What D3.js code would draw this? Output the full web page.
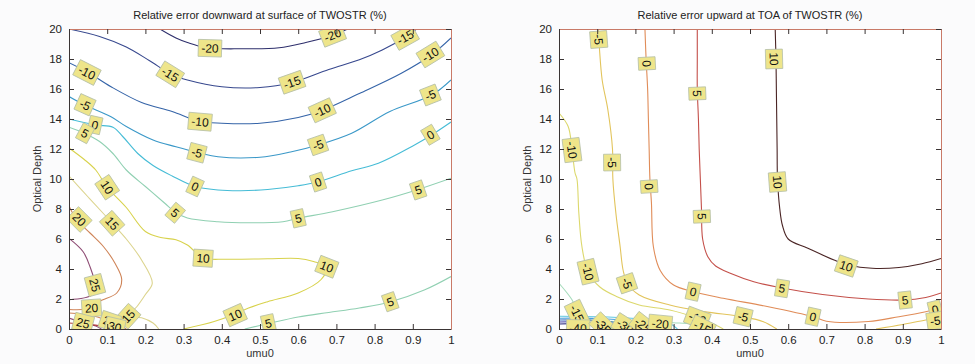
<!DOCTYPE html>
<html>
<head>
<meta charset="utf-8">
<script src="https://cdn.jsdelivr.net/npm/d3@7"></script>
<style>
  body { margin: 0; background: #fbfbfc; }
  svg { display: block; font-family: "Liberation Sans", Arial, sans-serif; }
</style>
</head>
<body>
<svg id="chart" width="975" height="364"></svg>
<script>
// axis ticks
const xTicks = [0, 0.1, 0.2, 0.3, 0.4, 0.5, 0.6, 0.7, 0.8, 0.9, 1];
const yTicks = [0, 2, 4, 6, 8, 10, 12, 14, 16, 18, 20];
const titles = ["Relative error downward at surface of TWOSTR (%)", "Relative error upward at TOA of TWOSTR (%)"];

// contour levels
const downLevels = [-20, -15, -10, -5, 0, 5, 10, 15, 20, 25, 30];
const upLevels = [-40, -35, -30, -25, -20, -15, -10, -5, 0, 5, 10];

// contour lines: [level, [[umu0, depth], ...]]
const downLines = [
  [-20, [[0.238,20],[0.28,19.4],[0.31,19.1],[0.36,18.75],[0.45,18.68],[0.55,18.75],[0.62,19.1],[0.68,19.5],[0.73,20]]],
  [-15, [[0,20],[0.08,19.5],[0.15,18.8],[0.21,17.9],[0.27,16.95],[0.31,16.6],[0.4,16.15],[0.5,16.1],[0.58,16.4],[0.68,17.3],[0.76,17.95],[0.82,18.6],[0.88,19.45],[0.91,20]]],
  [-10, [[0,17.75],[0.05,17.1],[0.11,16.15],[0.19,15.1],[0.27,14.5],[0.34,13.85],[0.4,13.72],[0.5,13.72],[0.6,14.1],[0.66,14.55],[0.76,15.7],[0.87,17.05],[0.95,18.3],[1,19.4]]],
  [-5, [[0,15.5],[0.04,14.95],[0.11,14.15],[0.15,13.5],[0.22,12.6],[0.28,12.15],[0.34,11.75],[0.39,11.48],[0.5,11.45],[0.58,11.8],[0.65,12.25],[0.74,13.05],[0.84,14.5],[0.95,15.6],[1,16.6]]],
  [0, [[0,14.0],[0.07,13.6],[0.115,13.45],[0.14,12.85],[0.18,11.7],[0.22,10.9],[0.27,10.2],[0.33,9.5],[0.39,9.27],[0.45,9.22],[0.52,9.3],[0.6,9.55],[0.65,9.8],[0.74,10.55],[0.81,11.05],[0.9,12.2],[0.95,12.95],[1,13.8]]],
  [5, [[0,13.45],[0.04,13.05],[0.08,12.5],[0.115,11.7],[0.15,10.6],[0.2,9.5],[0.25,8.4],[0.28,7.75],[0.31,7.4],[0.39,7.15],[0.47,7.08],[0.56,7.15],[0.6,7.38],[0.69,7.82],[0.82,8.6],[0.91,9.27],[1,10.05]]],
  [5, [[0.46,0],[0.52,0.35],[0.6,0.8],[0.68,1.1],[0.76,1.4],[0.84,1.8],[0.93,2.6],[1,3.5]]],
  [10, [[0,12.07],[0.04,11.3],[0.07,10.6],[0.1,9.45],[0.15,8.1],[0.2,6.5],[0.24,6.1],[0.28,5.95],[0.31,5.6],[0.35,4.75],[0.41,4.65],[0.52,4.68],[0.6,4.7],[0.64,4.5],[0.675,4.15],[0.66,3.3],[0.6,2.4],[0.52,1.82],[0.47,1.4],[0.43,0.95],[0.38,0.5],[0.3,0]]],
  [15, [[0,10.2],[0.05,8.8],[0.09,7.7],[0.113,7.05],[0.15,6.0],[0.19,4.6],[0.218,3.05],[0.2,2.3],[0.178,1.5],[0.155,0.85],[0.19,0.75],[0.22,0.4],[0.235,0]]],
  [20, [[0,8.2],[0.02,7.3],[0.055,6.4],[0.09,5.5],[0.12,4.4],[0.138,3.3],[0.125,2.4],[0.08,1.85],[0.06,1.4],[0,1.3]]],
  [25, [[0,6.04],[0.037,5.15],[0.055,4.15],[0.068,2.93],[0.06,2.27],[0,1.95]]],
  [20, [[0,1.07],[0.06,0.9],[0.107,0.5],[0.14,0.15],[0.15,0]]],
  [25, [[0,0.73],[0.037,0.42],[0.07,0.2],[0.085,0]]],
  [30, [[0,0.4],[0.05,0.3],[0.1,0.15],[0.125,0]]]
];

// label spots: [level, umu0, depth]
const downLabels = [
  [-20,0.369,18.72],[-20,0.69,19.6],
  [-15,0.265,16.98],[-15,0.584,16.45],[-15,0.88,19.45],
  [-10,0.047,17.1],[-10,0.343,13.82],[-10,0.663,14.58],[-10,0.946,18.3],
  [-5,0.042,14.95],[-5,0.335,11.75],[-5,0.652,12.27],[-5,0.946,15.6],
  [0,0.068,13.6],[0,0.33,9.5],[0,0.652,9.8],[0,0.946,12.95],
  [5,0.042,13.05],[5,0.278,7.75],[5,0.6,7.38],[5,0.914,9.27],[5,0.522,0.38],[5,0.841,1.82],
  [10,0.1,9.45],[10,0.351,4.72],[10,0.675,4.15],[10,0.435,0.93],
  [15,0.113,7.05],[15,0.155,0.85],
  [20,0.027,7.3],[20,0.059,1.4],[20,0.107,0.5],
  [25,0.068,2.93],[25,0.037,0.4],
  [30,0.12,0.15]
];

const upLines = [
  [10, [[0.566,20],[0.568,18],[0.569,16],[0.57,14],[0.571,12],[0.572,10],[0.578,8],[0.585,6.9],[0.6,6.0],[0.65,5.4],[0.72,4.6],[0.76,4.25],[0.82,4.05],[0.89,4.1],[0.95,4.35],[1,4.7]]],
  [5, [[0.362,20],[0.362,18],[0.362,16],[0.365,14],[0.367,12],[0.37,10],[0.373,8],[0.376,6],[0.39,4.8],[0.41,4.2],[0.45,3.7],[0.51,3.15],[0.58,2.75],[0.69,2.3],[0.81,2.0],[0.9,1.93],[0.96,2.1],[1,2.4]]],
  [0, [[0.225,20],[0.228,18],[0.232,16],[0.234,14],[0.236,12],[0.238,10],[0.242,8.4],[0.247,5.5],[0.265,3.9],[0.3,2.93],[0.35,2.5],[0.43,2.05],[0.545,1.5],[0.665,0.82],[0.7,0.52],[0.81,0.5],[0.89,0.82],[0.96,1.15],[1,1.4]]],
  [-5, [[0.102,20],[0.105,19],[0.113,16.6],[0.128,14.6],[0.14,12],[0.141,10],[0.149,7.7],[0.16,5.5],[0.168,3.9],[0.18,3.0],[0.21,2.27],[0.29,1.6],[0.38,1.16],[0.48,0.82],[0.535,0.49],[0.57,0]]],
  [-5, [[0.83,0],[0.9,0.3],[0.96,0.6],[1,0.75]]],
  [-10, [[0,14.4],[0.024,13.5],[0.034,12],[0.042,10.4],[0.047,10],[0.052,7.7],[0.06,5.5],[0.076,3.8],[0.107,2.8],[0.152,2.15],[0.21,1.6],[0.29,1.27],[0.36,0.75],[0.41,0.27],[0.43,0]]],
  [-15, [[0,3.05],[0.034,1.95],[0.05,1.1],[0.08,0.62],[0.15,0.5],[0.3,0.42],[0.37,0.25],[0.39,0]]],
  [-20, [[0,0.85],[0.1,0.82],[0.2,0.7],[0.28,0.5],[0.31,0]]],
  [-25, [[0,0.72],[0.1,0.7],[0.18,0.55],[0.22,0.3],[0.235,0]]],
  [-30, [[0,0.6],[0.09,0.58],[0.15,0.4],[0.175,0]]],
  [-35, [[0,0.47],[0.08,0.45],[0.11,0.25],[0.12,0]]],
  [-40, [[0,0.33],[0.06,0.3],[0.08,0]]]
];

const upLabels = [
  [10,0.563,18],[10,0.572,9.8],[10,0.752,4.2],
  [5,0.362,15.7],[5,0.374,7.5],[5,0.584,2.71],[5,0.906,1.93],
  [0,0.23,17.7],[0,0.236,9.5],[0,0.351,2.49],[0,0.665,0.82],[0,0.985,1.3],
  [-5,0.104,19.3],[-5,0.139,11.1],[-5,0.178,3.05],[-5,0.482,0.82],[-5,0.985,0.55],
  [-10,0.034,11.93],[-10,0.076,3.82],[-10,0.362,0.72],
  [-15,0.047,1.04],[-15,0.375,0.1],
  [-40,0.05,0.05],[-35,0.115,0.2],[-30,0.173,0.2],[-25,0.22,0.25],[-20,0.265,0.35]
];

const downColor = d3.scaleOrdinal().domain(downLevels)
  .range(["#2e2f6c", "#37488e", "#3564a8", "#3a98c8", "#46bcd6", "#90d0b2", "#d8d24c", "#dcd48e", "#cf8458", "#8e4c74", "#b23a3a"]);
const upColor = d3.scaleOrdinal().domain(upLevels)
  .range(["#303080", "#4a4cac", "#4070c0", "#4a9ed8", "#60c8e0", "#a6dcbc", "#dcd86c", "#e2c45c", "#e08c58", "#c4504a", "#4a2424"]);

const plotTop = 29, plotBottom = 329;
const svg = d3.select("#chart");

function drawPanel(idx, x0, x1, lines, labels, color) {
  const x = d3.scaleLinear().domain([0, 1]).range([x0, x1]);
  const y = d3.scaleLinear().domain([0, 20]).range([plotBottom, plotTop]);
  const g = svg.append("g");

  g.append("rect").attr("x", x0).attr("y", plotTop).attr("width", x1 - x0).attr("height", plotBottom - plotTop).attr("fill", "#fff");

  const clipId = "clip" + idx;
  svg.append("clipPath").attr("id", clipId)
    .append("rect").attr("x", x0).attr("y", plotTop).attr("width", x1 - x0).attr("height", plotBottom - plotTop);

  const plot = g.append("g").attr("clip-path", `url(#${clipId})`);
  const line = d3.line().x(d => x(d[0])).y(d => y(d[1])).curve(d3.curveCatmullRom.alpha(0.5));

  plot.selectAll("path.c").data(lines).join("path")
    .attr("class", "c")
    .attr("d", d => line(d[1]))
    .attr("fill", "none")
    .attr("stroke", d => color(d[0]))
    .attr("stroke-width", 1.1);

  // angle of the nearest contour segment of the same level
  function angleAt(lv, u, dd) {
    const px = x(u), py = y(dd);
    let best = Infinity, ang = 0;
    lines.filter(l => l[0] === lv).forEach(l => {
      const p = l[1];
      for (let i = 0; i < p.length - 1; i++) {
        const ax = x(p[i][0]), ay = y(p[i][1]), bx = x(p[i + 1][0]), by = y(p[i + 1][1]);
        const dx = bx - ax, dy = by - ay;
        const len2 = dx * dx + dy * dy || 1;
        let t = ((px - ax) * dx + (py - ay) * dy) / len2;
        t = Math.max(0, Math.min(1, t));
        const qx = ax + t * dx - px, qy = ay + t * dy - py;
        const dist = qx * qx + qy * qy;
        if (dist < best) { best = dist; ang = Math.atan2(dy, dx) * 180 / Math.PI; }
      }
    });
    if (ang > 90) ang -= 180;
    if (ang <= -90) ang += 180;
    return ang;
  }

  const lab = plot.selectAll("g.lab").data(labels).join("g")
    .attr("class", "lab")
    .attr("transform", d => `translate(${x(d[1])},${y(d[2])}) rotate(${angleAt(d[0], d[1], d[2])})`);
  lab.append("rect").attr("fill", "#eee58a").attr("stroke", "#b4bfa8").attr("stroke-width", 0.8);
  lab.append("text")
    .attr("text-anchor", "middle").attr("dy", "0.36em")
    .attr("font-size", 12).attr("fill", "#111")
    .text(d => d[0]);
  lab.each(function () {
    const t = d3.select(this).select("text").node();
    const w = t.getComputedTextLength() + 6;
    d3.select(this).select("rect").attr("x", -w / 2).attr("y", -8.5).attr("width", w).attr("height", 17);
  });

  // axes, ticks pointing inward
  const axB = g.append("g").attr("transform", `translate(0,${plotBottom})`)
    .call(d3.axisBottom(x).tickValues(xTicks).tickFormat(d3.format("")).tickSizeInner(-5).tickSizeOuter(0).tickPadding(7));
  const axL = g.append("g").attr("transform", `translate(${x0},0)`)
    .call(d3.axisLeft(y).tickValues(yTicks).tickSizeInner(-5).tickSizeOuter(0).tickPadding(7));
  const axT = g.append("g").attr("transform", `translate(0,${plotTop})`)
    .call(d3.axisTop(x).tickValues(xTicks).tickFormat("").tickSizeInner(-5).tickSizeOuter(0));
  const axR = g.append("g").attr("transform", `translate(${x1},0)`)
    .call(d3.axisRight(y).tickValues(yTicks).tickFormat("").tickSizeInner(-5).tickSizeOuter(0));
  [axB, axL].forEach(a => {
    a.select(".domain").attr("stroke", "#3a3434");
    a.selectAll(".tick line").attr("stroke", "#3a3434");
    a.selectAll(".tick text").attr("font-size", 11.5).attr("fill", "#222").attr("font-family", "Liberation Sans, Arial, sans-serif");
  });
  [axT, axR].forEach(a => {
    a.select(".domain").attr("stroke", "#c97a68");
    a.selectAll(".tick line").attr("stroke", "#3a3434");
  });

  g.append("text").attr("x", (x0 + x1) / 2).attr("y", 19).attr("text-anchor", "middle")
    .attr("font-size", 11).attr("fill", "#222").text(titles[idx]);
  g.append("text").attr("x", (x0 + x1) / 2).attr("y", 357).attr("text-anchor", "middle")
    .attr("font-size", 11).attr("fill", "#333").text("umu0");
  g.append("text").attr("transform", `translate(${x0 - 28},${(plotTop + plotBottom) / 2}) rotate(-90)`)
    .attr("text-anchor", "middle").attr("font-size", 11).attr("fill", "#333").text("Optical Depth");
}

drawPanel(0, 69, 451, downLines, downLabels, downColor);
drawPanel(1, 559, 941, upLines, upLabels, upColor);
</script>
</body>
</html>
